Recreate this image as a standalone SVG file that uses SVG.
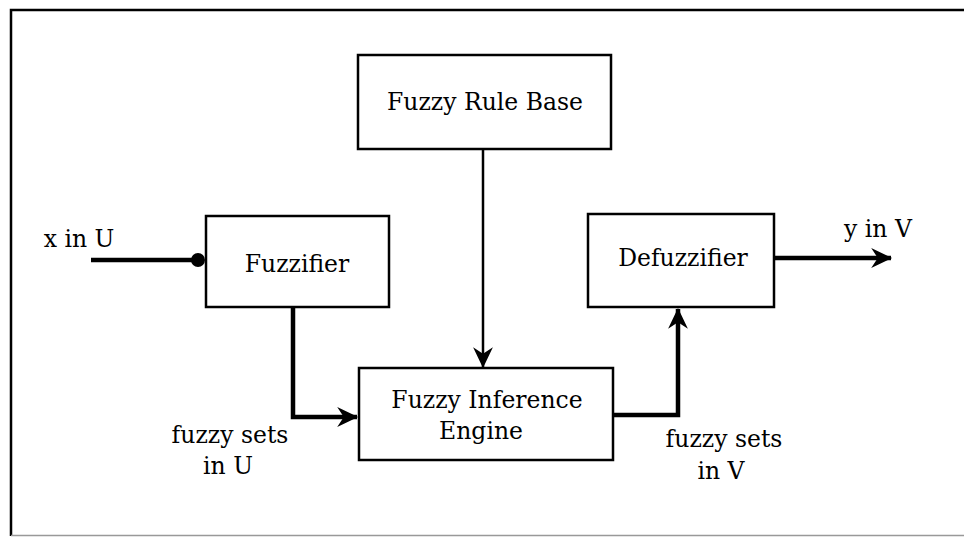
<svg xmlns="http://www.w3.org/2000/svg" width="964" height="537" viewBox="0 0 964 537">
<style>
.box{fill:#fff;stroke:#000;stroke-width:2.5}
.t{font-family:"DejaVu Serif","Liberation Serif",serif;font-size:23.5px;fill:#000;text-anchor:middle}
.thick{fill:none;stroke:#000;stroke-width:4.5}
.thin{fill:none;stroke:#000;stroke-width:2.5}
</style>
<defs>
<marker id="ah" viewBox="0 0 20 20" refX="18" refY="10" markerWidth="22" markerHeight="22" markerUnits="userSpaceOnUse" orient="auto">
<path d="M0,1 L19,10 L0,19 L6,10 Z" fill="#000"/>
</marker>
</defs>
<g id="frame">
<path d="M11,536 L11,10 L964,10" fill="none" stroke="#000" stroke-width="2.5"/>
<line x1="11" y1="535.5" x2="964" y2="535.5" stroke="#999" stroke-width="1.5"/>
</g>
<g id="connectors">
<line class="thick" x1="91" y1="260" x2="196" y2="260"/>
<circle cx="198" cy="260" r="7" fill="#000"/>
<line class="thin" x1="483" y1="149" x2="483" y2="367" marker-end="url(#ah)"/>
<polyline class="thick" points="293,307 293,417 357,417" marker-end="url(#ah)"/>
<polyline class="thick" points="613,415 678,415 678,309" marker-end="url(#ah)"/>
<line class="thick" x1="774" y1="258" x2="891" y2="258" marker-end="url(#ah)"/>
</g>
<g id="rulebase">
<rect class="box" x="358" y="55" width="253" height="94"/>
<text class="t" x="485" y="110">Fuzzy Rule Base</text>
</g>
<g id="fuzzifier">
<rect class="box" x="206" y="216" width="183" height="91"/>
<text class="t" x="297" y="272">Fuzzifier</text>
</g>
<g id="inference">
<rect class="box" x="359" y="368" width="254" height="92"/>
<text class="t" x="487" y="408">Fuzzy Inference</text>
<text class="t" x="481" y="439">Engine</text>
</g>
<g id="defuzzifier">
<rect class="box" x="588" y="214" width="186" height="93"/>
<text class="t" x="683" y="266">Defuzzifier</text>
</g>
<g id="labels">
<text class="t" x="79" y="247">x in U</text>
<text class="t" x="878" y="237">y in V</text>
<text class="t" x="230" y="443">fuzzy sets</text>
<text class="t" x="228" y="474">in U</text>
<text class="t" x="724" y="447">fuzzy sets</text>
<text class="t" x="721" y="479">in V</text>
</g>
</svg>
